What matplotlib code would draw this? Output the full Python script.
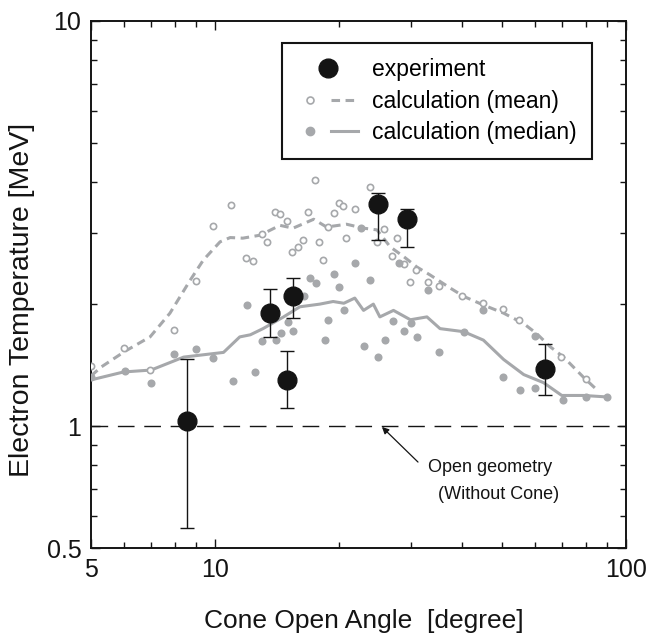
import matplotlib
matplotlib.use('Agg')
import matplotlib.pyplot as plt
from matplotlib.lines import Line2D
from matplotlib.legend_handler import HandlerTuple
from matplotlib.ticker import NullFormatter, FixedLocator

plt.rcParams['font.family'] = ['Liberation Sans', 'DejaVu Sans']

# ---------------- data ----------------
# experiment
exp_x = [8.58, 13.6, 15.5, 14.96, 25.0, 29.3, 63.6]
exp_y = [1.03, 1.90, 2.09, 1.30, 3.53, 3.24, 1.38]
exp_hi = [1.46, 2.18, 2.32, 1.53, 3.76, 3.43, 1.59]
exp_lo = [0.56, 1.66, 1.85, 1.11, 2.88, 2.77, 1.19]

# calculation (mean) curve
mean_x = [5.0, 5.3, 6.05, 6.96, 7.78, 8.71, 9.38, 10.3, 10.9, 11.7, 12.9, 14.4, 15.5,
          17.4, 18.7, 20.9, 23.0, 24.8, 26.7, 28.8, 31.0, 33.4, 37.4, 40.3, 45.0,
          50.4, 56.4, 60.7, 65.4, 70.5, 78.8, 85.6]
mean_y = [1.33, 1.40, 1.53, 1.66, 1.90, 2.29, 2.57, 2.85, 2.92, 2.91, 2.96, 3.13, 3.08,
          3.24, 3.10, 3.15, 3.08, 3.05, 2.77, 2.62, 2.47, 2.36, 2.19, 2.09, 1.99,
          1.90, 1.79, 1.69, 1.57, 1.48, 1.32, 1.22]

# calculation (median) curve
med_x = [5.0, 6.0, 7.0, 8.4, 10.5, 11.5, 12.2, 13.1, 14.7, 16.1, 18.0, 19.4, 20.6,
         21.9, 23.0, 24.3, 25.2, 27.2, 29.9, 32.8, 35.3, 40.3, 45.0, 50.4, 56.4,
         63.0, 69.8, 78.8, 89.9]
med_y = [1.30, 1.36, 1.375, 1.48, 1.52, 1.66, 1.68, 1.74, 1.86, 1.97, 2.00, 2.03, 2.01,
         2.07, 1.93, 2.00, 1.86, 1.93, 1.83, 1.86, 1.74, 1.71, 1.63, 1.46, 1.34,
         1.28, 1.19, 1.19, 1.18]

# calculation (mean) individual points
mpts_x = [5.0, 6.0, 6.95, 7.95, 9.0, 9.9, 10.96, 11.9, 12.4, 13.0, 13.4, 14.0, 14.4, 15.0,
          15.4, 15.9, 16.4, 16.9, 17.5, 17.9, 18.3, 18.8, 19.5, 20.0, 20.5, 20.8, 21.9,
          23.8, 24.8, 25.8, 26.9, 27.8, 28.8, 30.9, 29.9, 33.0, 35.0, 39.9, 45.0, 50.1,
          54.8, 69.6, 79.9]
mpts_y = [1.41, 1.56, 1.375, 1.73, 2.28, 3.12, 3.51, 2.60, 2.56, 2.98, 2.84, 3.37, 3.33, 3.21,
          2.69, 2.76, 2.88, 3.37, 4.05, 2.84, 2.57, 3.10, 3.35, 3.55, 3.49, 2.91, 3.43,
          3.89, 2.84, 3.06, 2.63, 2.91, 2.51, 2.43, 2.27, 2.27, 2.22, 2.09, 2.01, 1.94,
          1.83, 1.48, 1.31]

# calculation (median) individual points
dpts_x = [5.0, 6.05, 7.0, 7.96, 9.0, 9.9, 11.1, 12.0, 12.5, 13.0, 14.1, 14.5, 15.1, 15.5,
          16.5, 17.0, 17.6, 18.5, 18.9, 19.5, 20.1, 20.6, 21.9, 22.7, 23.0, 23.9, 24.9,
          26.0, 27.1, 28.0, 28.9, 30.0, 31.0, 33.0, 35.0, 40.3, 44.9, 50.2, 55.1, 60.2,
          60.2, 70.1, 80.0, 90.0]
dpts_y = [1.32, 1.37, 1.28, 1.51, 1.55, 1.47, 1.29, 1.99, 1.36, 1.62, 1.63, 1.70, 1.81, 1.72,
          2.09, 2.32, 2.26, 1.63, 1.83, 2.37, 2.21, 1.93, 2.53, 3.08, 1.58, 2.30, 1.48,
          1.63, 1.82, 2.52, 1.72, 1.80, 1.66, 2.17, 1.52, 1.71, 1.93, 1.32, 1.23, 1.24,
          1.67, 1.16, 1.18, 1.18]

open_geom_T = 1.0

x_major = [5, 10, 100]
x_major_labels = ['5', '10', '100']
x_minor = [6, 7, 8, 9, 20, 30, 40, 50, 60, 70, 80, 90]
y_major = [0.5, 1, 10]
y_major_labels = ['0.5', '1', '10']
y_minor = [0.6, 0.7, 0.8, 0.9, 2, 3, 4, 5, 6, 7, 8, 9]

labels = ['experiment', 'calculation (mean)', 'calculation (median)']

# ---------------- plot ----------------
gray = '#a6a8ab'
black = '#141414'

fig = plt.figure(figsize=(6.61, 6.37), dpi=100)
ax = fig.add_axes([91/661, 1-548/637, 535/661, 527/637])
ax.set_xscale('log')
ax.set_yscale('log')

ax.axhline(open_geom_T, color=black, lw=1.0, ls=(0, (12, 7)), zorder=1)

ax.plot(mean_x, mean_y, color=gray, lw=2.2, ls=(0, (2.8, 1.8)), zorder=2)
ax.plot(med_x, med_y, color=gray, lw=2.2, ls='-', zorder=2)
ax.plot(mpts_x, mpts_y, ls='none', marker='o', ms=4.5, mfc='white', mec=gray, mew=1.2, zorder=3)
ax.plot(dpts_x, dpts_y, ls='none', marker='o', ms=5.8, mfc=gray, mec=gray, mew=0, zorder=3)

yerr = [[y - lo for y, lo in zip(exp_y, exp_lo)], [hi - y for y, hi in zip(exp_y, exp_hi)]]
ax.errorbar(exp_x, exp_y, yerr=yerr, fmt='o', color=black, ms=13.5, ecolor=black,
            elinewidth=1.0, capsize=4.7, capthick=1.0, zorder=5)

ax.set_xlim(5, 100)
ax.set_ylim(0.5, 10)

ax.xaxis.set_major_locator(FixedLocator(x_major))
ax.xaxis.set_minor_locator(FixedLocator(x_minor))
ax.set_xticklabels(x_major_labels)
ax.xaxis.set_minor_formatter(NullFormatter())
ax.yaxis.set_major_locator(FixedLocator(y_major))
ax.yaxis.set_minor_locator(FixedLocator(y_minor))
ax.set_yticklabels(y_major_labels)
ax.yaxis.set_minor_formatter(NullFormatter())

ax.tick_params(which='both', direction='in', top=True, right=True, width=1.0, colors=black)
ax.tick_params(which='major', length=6.5, labelsize=18, pad=7)
ax.tick_params(which='minor', length=4)
for s in ax.spines.values():
    s.set_linewidth(1.4)
    s.set_color(black)

ax.set_xlabel('Cone Open Angle  [degree]', fontsize=19, color=black)
ax.set_ylabel('Electron Temperature [MeV]', fontsize=20.5, color=black)
ax.xaxis.set_label_coords(0.51, -0.115)
ax.yaxis.set_label_coords(-0.105, 0.47)

# annotation
ax.annotate('', xy=(25.5, 0.995), xytext=(31.2, 0.815),
            arrowprops=dict(arrowstyle='-|>', color=black, lw=0.9, mutation_scale=10,
                            shrinkA=0, shrinkB=0))
ax.text(33.0, 0.788, 'Open geometry', fontsize=13, ha='left', va='center', color=black)
ax.text(34.9, 0.679, '(Without Cone)', fontsize=13, ha='left', va='center', color=black)

# legend
h_exp = Line2D([], [], marker='o', ls='none', color=black, ms=13.5)
h_mean_m = Line2D([], [], marker='o', ls='none', mfc='white', mec=gray, ms=5, mew=1.2)
h_mean_l = Line2D([], [], ls=(0, (2.8, 1.8)), color=gray, lw=2.2)
h_med_m = Line2D([], [], marker='o', ls='none', mfc=gray, mec=gray, ms=6)
h_med_l = Line2D([], [], ls='-', color=gray, lw=2.2)
leg = ax.legend([h_exp, (h_mean_m, h_mean_l), (h_med_m, h_med_l)], labels,
                handler_map={tuple: HandlerTuple(ndivide=None, pad=0.3)},
                loc='upper right', bbox_to_anchor=(0.936, 0.958), fontsize=16.5,
                frameon=True, fancybox=False, edgecolor=black, framealpha=1,
                handlelength=2.7, borderpad=0.65, labelspacing=0.38, handletextpad=0.6,
                borderaxespad=0)
leg.get_frame().set_linewidth(1.5)

fig.savefig('out.png', dpi=100)
